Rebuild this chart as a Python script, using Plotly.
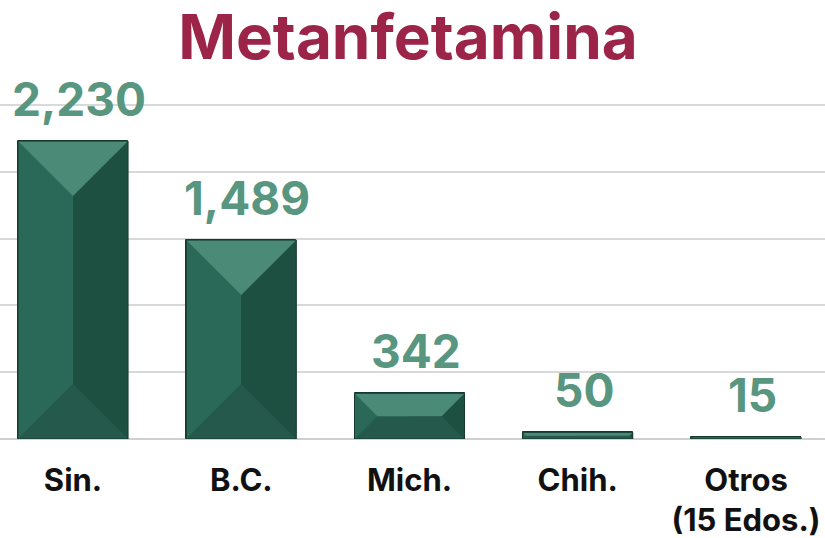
import plotly.graph_objects as go

# Seizures of methamphetamine by state
categories = ["Sin.", "B.C.", "Mich.", "Chih.", "Otros<br>(15 Edos.)"]
values = [2230, 1489, 342, 50, 15]
y_ticks = [0, 500, 1000, 1500, 2000, 2500]

TITLE = "Metanfetamina"
TITLE_COLOR = "#9D2449"
LABEL_COLOR = "#58967F"
FONT = "Inter, 'Open Sans', sans-serif"

W, H = 825, 538
M_T, M_B = 103, 99
X_RANGE = [-0.434, 4.4695]
Y_RANGE = [0, 2515]
BAR_W = 0.654

# pixel scale of each axis, used to size the bevel facets
px_per_x = W / (X_RANGE[1] - X_RANGE[0])
px_per_y = (H - M_T - M_B) / (Y_RANGE[1] - Y_RANGE[0])

FACE_LEFT = "#2A6957"
FACE_RIGHT = "#1E5042"
FACE_TOP = "#4A8A76"
FACE_BOTTOM = "#24594B"
FACE_FLAT = "#27614F"
EDGE = "#163A30"

fig = go.Figure()
fig.add_trace(go.Bar(
    x=list(range(len(categories))), y=values, width=BAR_W,
    marker=dict(color=FACE_LEFT, line=dict(color=EDGE, width=1)),
    hoverinfo="skip", showlegend=False,
))


def poly(points, color):
    path = "M " + " L ".join(f"{px},{py}" for px, py in points) + " Z"
    return dict(type="path", path=path, xref="x", yref="y",
                fillcolor=color, line=dict(width=0), layer="above")


# beveled faces for every bar, derived from its value
shapes = []
half = BAR_W / 2
for i, v in enumerate(values):
    h_px = v * px_per_y
    d_px = min(half * px_per_x, h_px / 2)
    dx = d_px / px_per_x
    dy = d_px / px_per_y
    l, r, t, b = i - half, i + half, v, 0
    il, ir, it, ib = l + dx, r - dx, t - dy, b + dy
    shapes.append(poly([(i, b), (r, b), (r, t), (i, t)], FACE_RIGHT))
    shapes.append(poly([(l, t), (il, it), (il, ib), (l, b)], FACE_LEFT))
    shapes.append(poly([(r, t), (ir, it), (ir, ib), (r, b)], FACE_RIGHT))
    shapes.append(poly([(l, b), (r, b), (ir, ib), (il, ib)], FACE_BOTTOM))
    shapes.append(poly([(l, t), (r, t), (ir, it), (il, it)], FACE_TOP))
    if ir > il and it > ib:
        shapes.append(poly([(il, ib), (ir, ib), (ir, it), (il, it)], FACE_FLAT))
    shapes.append(dict(type="rect", xref="x", yref="y", x0=l, x1=r, y0=b, y1=t,
                       line=dict(color=EDGE, width=1), fillcolor="rgba(0,0,0,0)",
                       layer="above"))

annotations = [
    dict(x=i, y=v, text=f"{v:,}", showarrow=False, xref="x", yref="y",
         yanchor="bottom", xanchor="center", yshift=12, xshift=6,
         font=dict(family=FONT, size=46, color=LABEL_COLOR, weight="bold"))
    for i, v in enumerate(values)
]

fig.update_layout(
    width=W, height=H,
    margin=dict(l=0, r=0, t=M_T, b=M_B, autoexpand=False),
    paper_bgcolor="white", plot_bgcolor="rgba(0,0,0,0)",
    title=dict(text=TITLE, x=0.4945, xanchor="center", y=1 - 37 / H,
               yanchor="middle", yref="container",
               font=dict(family=FONT, size=62, color=TITLE_COLOR, weight="bold")),
    shapes=shapes, annotations=annotations,
    bargap=0,
)
fig.update_xaxes(
    range=X_RANGE, tickmode="array", tickvals=list(range(len(categories))),
    ticktext=[f"<b>{c}</b>" for c in categories],
    tickfont=dict(family=FONT, size=31, color="#111111"),
    showgrid=False, zeroline=False, showline=False, ticks="",
    ticklabelstandoff=20, automargin=False,
)
fig.update_yaxes(
    range=Y_RANGE, tickvals=y_ticks, showticklabels=False,
    showgrid=True, gridcolor="#D9D9D9", gridwidth=1.5,
    zeroline=True, zerolinecolor="#D0D0D0", zerolinewidth=1.5,
    automargin=False,
)

fig.write_html("out.html")
